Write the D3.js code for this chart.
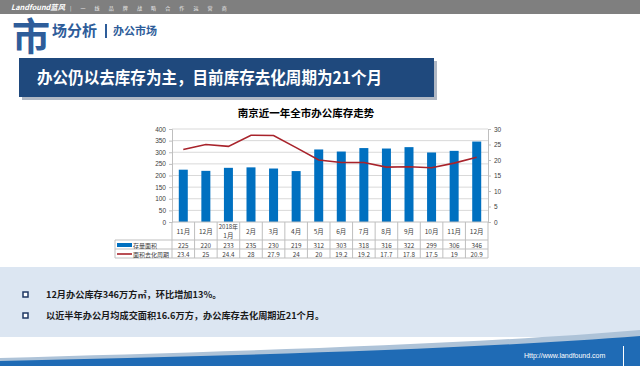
<!DOCTYPE html>
<html><head><meta charset="utf-8">
<script src="https://cdn.jsdelivr.net/npm/d3@7/dist/d3.min.js"></script>
<style>
body{margin:0;padding:0;background:#fff;}
svg{display:block;font-family:"Noto Sans CJK SC","Noto Sans",sans-serif;}
</style></head><body>
<svg id="c" width="640" height="366"></svg>
<script>
const categories = ["11月","12月","2018年\n1月","2月","3月","4月","5月","6月","7月","8月","9月","10月","11月","12月"];
const stockArea = [225,220,233,235,230,219,312,303,318,316,322,299,306,346];
const cycleMonths = [23.4,25,24.4,28,27.9,24,20,19.2,19.2,17.7,17.8,17.5,19,20.9];
const leftTicks = [0,50,100,150,200,250,300,350,400];
const rightTicks = [0,5,10,15,20,25,30];
const seriesNames = ["存量面积","面积去化周期"];
const bullets = ["12月办公库存346万方㎡，环比增加13%。","以近半年办公月均成交面积16.6万方，办公库存去化周期近21个月。"];

const svg = d3.select("#c");
const blue = "#0070c0", red = "#a8232b", navy = "#1f497d";

// header bar
svg.append("rect").attr("x",0).attr("y",0).attr("width",640).attr("height",14).attr("fill","#7f7f7f");
svg.append("text").attr("x",11).attr("y",10).attr("fill","#fff").attr("font-size",7.5).attr("font-weight","bold").attr("font-style","italic")
  .attr("textLength",54).attr("lengthAdjust","spacingAndGlyphs").text("Landfound蓝风");
svg.append("text").attr("x",70).attr("y",10).attr("fill","#eee").attr("font-size",5).attr("letter-spacing",4).text("|  一 线 品 牌 战 略 合 作 运 营 商");

// section title
svg.append("text").attr("x",12).attr("y",50).attr("fill","#2e5d9a").attr("font-size",38).attr("font-weight","bold").text("市");
svg.append("text").attr("x",52).attr("y",36).attr("fill","#2e5d9a").attr("font-size",15).attr("font-weight","bold").text("场分析");
svg.append("rect").attr("x",105).attr("y",24).attr("width",2).attr("height",14).attr("fill","#2e5d9a");
svg.append("text").attr("x",113).attr("y",35).attr("fill","#2e5d9a").attr("font-size",11).attr("font-weight","bold").text("办公市场");

// banner
svg.append("rect").attr("x",22).attr("y",61).attr("width",415).attr("height",39).attr("fill","#b0b8c4");
svg.append("rect").attr("x",19).attr("y",58).attr("width",415).attr("height",39).attr("fill",navy);
svg.append("text").attr("x",37).attr("y",84).attr("fill","#fff").attr("font-size",16.5).attr("font-weight","bold")
  .attr("textLength",345).attr("lengthAdjust","spacingAndGlyphs").text("办公仍以去库存为主，目前库存去化周期为21个月");

// chart title
svg.append("text").attr("x",306).attr("y",117).attr("text-anchor","middle").attr("font-size",10.5).attr("font-weight","bold").attr("fill","#000").text("南京近一年全市办公库存走势");

// plot
const L=172, R=488, T=129, B=222;
const x = d3.scaleBand().domain(d3.range(categories.length)).range([L,R]);
const yL = d3.scaleLinear().domain([0,400]).range([B,T]);
const yR = d3.scaleLinear().domain([0,30]).range([B,T]);

svg.append("g").selectAll("line").data(leftTicks.slice(1)).join("line")
  .attr("x1",L).attr("x2",R).attr("y1",d=>yL(d)).attr("y2",d=>yL(d)).attr("stroke","#d9d9d9").attr("stroke-width",1);

const axL = svg.append("g").attr("transform",`translate(${L},0)`).call(d3.axisLeft(yL).tickValues(leftTicks).tickSize(3).tickPadding(3));
const axR = svg.append("g").attr("transform",`translate(${R},0)`).call(d3.axisRight(yR).tickValues(rightTicks).tickSize(3).tickPadding(3));
[axL,axR].forEach(a=>{a.selectAll("path,line").attr("stroke","#bfbfbf");a.selectAll("text").attr("font-size",6.5).attr("fill","#404040").attr("font-family","Arial, Liberation Sans, sans-serif");});

const bw = 9;
svg.append("g").selectAll("rect").data(stockArea).join("rect")
  .attr("x",(d,i)=>x(i)+x.bandwidth()/2-bw/2).attr("width",bw)
  .attr("y",d=>yL(d)).attr("height",d=>B-yL(d)).attr("fill",blue);

const line = d3.line().x((d,i)=>x(i)+x.bandwidth()/2).y(d=>yR(d));
svg.append("path").datum(cycleMonths).attr("d",line).attr("fill","none").attr("stroke",red).attr("stroke-width",1.6);

// x axis baseline
svg.append("line").attr("x1",L).attr("x2",R).attr("y1",B).attr("y2",B).attr("stroke","#bfbfbf");

// data table
const gridC = "#bfbfbf";
const hB = 240, r1 = 249, r2 = 258, legL = 115;
const tb = svg.append("g");
d3.range(categories.length+1).forEach(i=>{
  const xx = i<categories.length ? x(i) : R;
  tb.append("line").attr("x1",xx).attr("x2",xx).attr("y1",B).attr("y2",r2).attr("stroke",gridC);
});
tb.append("line").attr("x1",legL).attr("x2",legL).attr("y1",hB).attr("y2",r2).attr("stroke",gridC);
[hB,r1,r2].forEach(yy=>tb.append("line").attr("x1",legL).attr("x2",R).attr("y1",yy).attr("y2",yy).attr("stroke",gridC));

categories.forEach((c,i)=>{
  const cx = x(i)+x.bandwidth()/2;
  const parts = c.split("\n");
  if(parts.length===1){
    tb.append("text").attr("x",cx).attr("y",234).attr("text-anchor","middle").attr("font-size",6.5).attr("fill","#404040").text(c);
  } else {
    tb.append("text").attr("x",cx).attr("y",229).attr("text-anchor","middle").attr("font-size",6).attr("fill","#404040").text(parts[0]);
    tb.append("text").attr("x",cx).attr("y",238).attr("text-anchor","middle").attr("font-size",6.5).attr("fill","#404040").text(parts[1]);
  }
});
stockArea.forEach((v,i)=>tb.append("text").attr("x",x(i)+x.bandwidth()/2).attr("y",247.5).attr("text-anchor","middle").attr("font-size",6.3).attr("fill","#404040").text(v));
cycleMonths.forEach((v,i)=>tb.append("text").attr("x",x(i)+x.bandwidth()/2).attr("y",256.5).attr("text-anchor","middle").attr("font-size",6.3).attr("fill","#404040").text(v));
tb.append("rect").attr("x",117).attr("y",243).attr("width",15).attr("height",4).attr("fill",blue);
tb.append("text").attr("x",133).attr("y",247.5).attr("font-size",6).attr("fill","#404040").text(seriesNames[0]);
tb.append("line").attr("x1",117).attr("x2",132).attr("y1",254).attr("y2",254).attr("stroke",red).attr("stroke-width",1.6);
tb.append("text").attr("x",133).attr("y",256.5).attr("font-size",6).attr("fill","#404040").text(seriesNames[1]);

// bottom panel
svg.append("rect").attr("x",0).attr("y",267).attr("width",640).attr("height",70).attr("fill","#dce6f2");
bullets.forEach((t,i)=>{
  const yy = [296,317][i];
  svg.append("rect").attr("x",23).attr("y",yy-4).attr("width",5).attr("height",5).attr("fill","#fff").attr("stroke","#1f3864").attr("stroke-width",1.5);
  svg.append("text").attr("x",46).attr("y",yy+1.5).attr("font-size",9.2).attr("font-weight","bold").attr("fill","#1a1a1a").text(t);
});

// footer swoosh
svg.append("path").attr("d","M0,358 C200,352 450,346 640,330 L640,366 L0,366 Z").attr("fill","#aec3d8");
svg.append("path").attr("d","M0,361 C220,356 460,350 640,336 L640,366 L0,366 Z").attr("fill","#1f6bb5");
svg.append("text").attr("x",524).attr("y",358).attr("font-size",7).attr("fill","#fff").attr("font-family","Arial, Liberation Sans, sans-serif").text("Http://www.landfound.com");
svg.append("rect").attr("x",623).attr("y",346).attr("width",1).attr("height",20).attr("fill","#fff");
</script>
</body></html>
